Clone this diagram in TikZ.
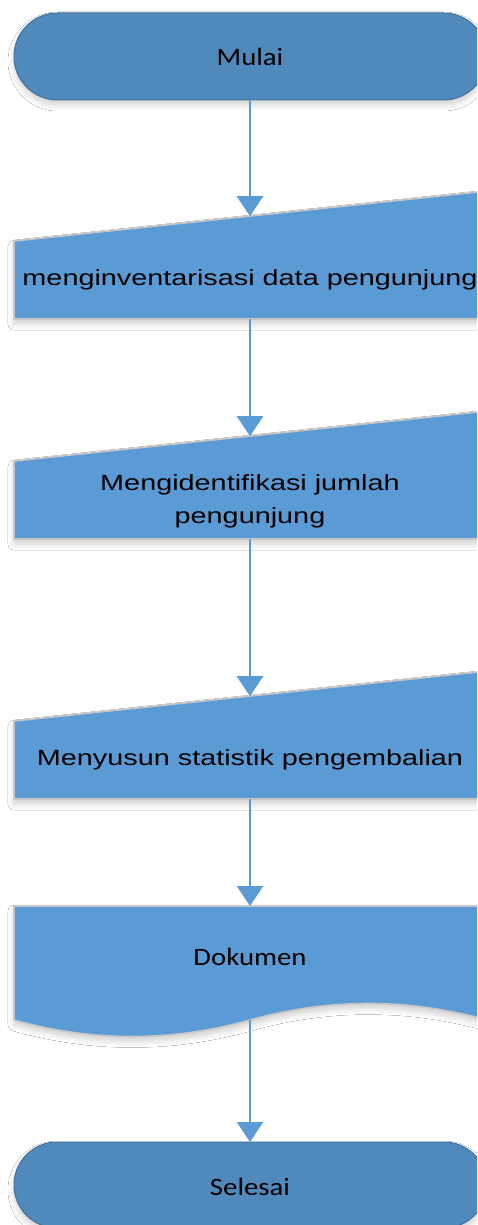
\documentclass[tikz,border=0pt]{standalone}
\usepackage{fontspec}
\usetikzlibrary{arrows.meta,shadows.blur}
\newfontfamily\procfont[FakeStretch=1.31]{Liberation Sans}
\newfontfamily\termfont[FakeStretch=1.15]{Carlito}
\definecolor{termfill}{HTML}{5089BC}
\definecolor{termline}{HTML}{41719C}
\definecolor{procfill}{HTML}{5B9BD5}
\definecolor{procline}{HTML}{C6C6C6}
\definecolor{arrowcol}{HTML}{5B9BD5}
\begin{document}
\begin{tikzpicture}[x=1pt,y=-1pt,
  softshadow/.style={blur shadow={shadow xshift=0pt,shadow yshift=-5pt,shadow blur radius=6pt,shadow opacity=18}},
  termshape/.style={fill=termfill,draw=termline,line width=1pt,softshadow},
  procshape/.style={fill=procfill,draw=procline,line width=1.6pt,softshadow},
  termtext/.style={font=\termfont\fontsize{25}{30}\selectfont,text=black,inner sep=0pt},
  proctext/.style={font=\procfont\fontsize{22}{33}\selectfont,text=black,align=center,inner sep=0pt},
  flow/.style={draw=arrowcol,line width=2.5pt,-{Triangle[width=26pt,length=20pt]}}]
\clip (0,0) rectangle (477,1225);
\fill[white] (0,0) rectangle (477,1225);
% Mulai
\path[termshape,rounded corners=43.5pt] (14,13) rectangle (487,100);
\node[termtext] (mulai) at (250,56.5) {Mulai};
\coordinate (mulaiS) at (250,100);
% Process 1
\path[procshape] (14,241) -- (487,191) -- (487,319) -- (14,319) -- cycle;
\node[proctext] (inv) at (250,280) {menginventarisasi data pengunjung};
\coordinate (invN) at (250,216.2);
\coordinate (invS) at (250,319);
% Process 2
\path[procshape] (14,461) -- (487,411) -- (487,539) -- (14,539) -- cycle;
\node[proctext] (ident) at (250,501) {Mengidentifikasi jumlah\\pengunjung};
\coordinate (identN) at (250,436.2);
\coordinate (identS) at (250,539);
% Process 3
\path[procshape] (14,721) -- (487,671) -- (487,799) -- (14,799) -- cycle;
\node[proctext] (stat) at (250,760) {Menyusun statistik pengembalian};
\coordinate (statN) at (250,696.2);
\coordinate (statS) at (250,799);
% Document
\path[procshape] (14,906) -- (487,906) -- (487,1020)
  .. controls (408,998) and (329,998) .. (250,1020)
  .. controls (171,1042) and (93,1042) .. (14,1020) -- cycle;
\node[termtext] (dok) at (250,957) {Dokumen};
\coordinate (dokN) at (250,906);
\coordinate (dokS) at (250,1020);
% Selesai
\path[termshape,rounded corners=43pt] (14,1142) rectangle (487,1228);
\node[termtext] (selesai) at (250,1187) {Selesai};
\coordinate (selesaiN) at (250,1142);
% connectors
\draw[flow] (mulaiS) -- (invN);
\draw[flow] (invS) -- (identN);
\draw[flow] (identS) -- (statN);
\draw[flow] (statS) -- (dokN);
\draw[flow] (dokS) -- (selesaiN);
\end{tikzpicture}
\end{document}
